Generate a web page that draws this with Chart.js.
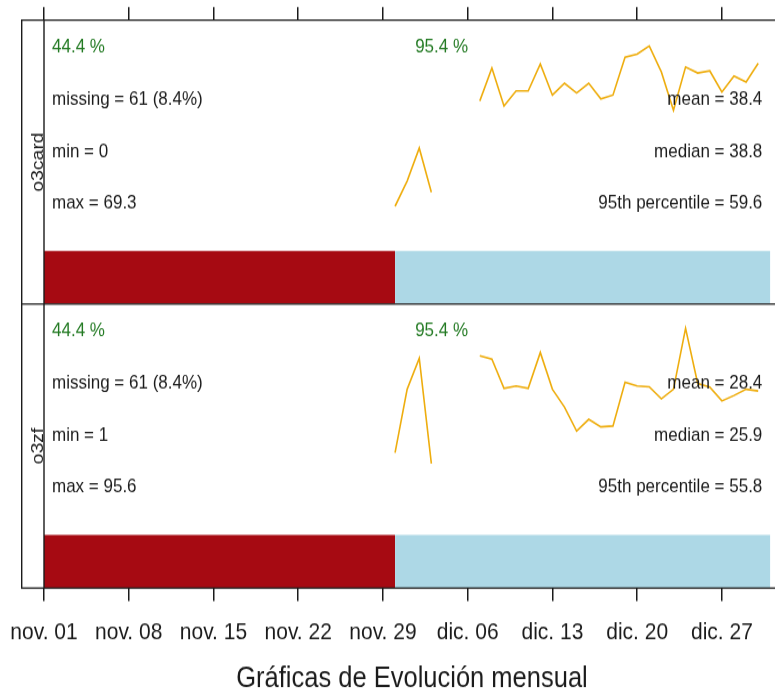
<!DOCTYPE html>
<html>
<head>
<meta charset="utf-8">
<script src="https://cdn.jsdelivr.net/npm/chart.js@4/dist/chart.umd.min.js"></script>
<style>
  html, body { margin: 0; padding: 0; background: #fff; overflow: hidden; }
  #frame { width: 775px; height: 695px; overflow: hidden; position: relative; }
  /* the drawing is made on a 780x610 canvas and stretched to the page height */
  #stretch { width: 780px; height: 610px; transform: scaleY(1.13934); transform-origin: 0 0; }
  canvas { display: block; }
</style>
</head>
<body>
<div id="frame"><div id="stretch">
  <canvas id="c" width="780" height="610" style="width:780px;height:610px"></canvas>
</div></div>
<script>
// ---- data -------------------------------------------------------------
// x values are days counted from 1 November
const panelNames = ['o3card', 'o3zf'];
const tickDays   = [0, 7, 14, 21, 28, 35, 42, 49, 56];
const tickLabels = ['nov. 01', 'nov. 08', 'nov. 15', 'nov. 22', 'nov. 29',
                    'dic. 06', 'dic. 13', 'dic. 20', 'dic. 27'];

// daily means (30 Nov .. 30 Dec), null = no data that day
const days = [29, 30, 31, 32, 33, 34, 35, 36, 37, 38, 39, 40, 41, 42, 43, 44,
              45, 46, 47, 48, 49, 50, 51, 52, 53, 54, 55, 56, 57, 58, 59];
const o3card = [6.9, 14.1, 23.5, 10.9, null, null, null, 36.9, 46.3, 35.5, 39.8,
                39.8, 47.5, 38.6, 42.0, 39.2, 42.0, 37.5, 38.6, 49.4, 50.3, 52.6,
                45.2, 34.3, 46.6, 44.9, 45.5, 39.5, 44.0, 42.3, 47.7];
const o3zf   = [14.4, 29.6, 37.0, 11.8, null, null, null, 37.6, 36.8, 29.8, 30.4,
                29.8, 38.4, 29.6, 25.3, 19.6, 22.4, 20.6, 20.8, 31.3, 30.4, 30.2,
                27.3, 29.6, 44.2, 31.0, 30.1, 26.8, 28.1, 29.6, 29.2];

// data availability bar: [from, to] and whether that stretch is missing
const spanFrom    = [0, 29];
const spanTo      = [29, 60];
const spanMissing = [true, false];

// monthly data capture (%), placed at the start of each month
const monthStart = [0, 30];
const captureO3card = [44.4, 95.4];
const captureO3zf   = [44.4, 95.4];

// summary statistics per panel
const statMissing    = [61, 61];
const statMissingPct = [8.4, 8.4];
const statMin        = [0, 1];
const statMax        = [69.3, 95.6];
const statMean       = [38.4, 28.4];
const statMedian     = [38.8, 25.9];
const statP95        = [59.6, 55.8];

const xTitle = 'Gráficas de Evolución mensual';

// ---- styling ----------------------------------------------------------
const INK = '#1b1b1b';
const GREEN = '#237a23';
const LINE = '#EEAD0E';
const MISSING = '#A60A12';
const PRESENT = '#ADD8E6';
const FONT = '"Liberation Sans", Arial, Helvetica, sans-serif';
const X_MAX = 60.8;
const Y_LIMITS = { yUpper: [-21, 60], yLower: [-18, 50] };
const BAR_FRAC = 0.1865;                 // share of a panel taken by the availability bar
const ROW_FRAC = [0.095, 0.280, 0.463, 0.643];
const STRIP_W = 22.3;

const series = [o3card, o3zf];
const capture = [captureO3card, captureO3zf];
const axisIds = ['yUpper', 'yLower'];

const datasets = [];
series.forEach((vals, p) => {
  const id = axisIds[p];
  const [lo, hi] = Y_LIMITS[id];
  const barTop = lo + BAR_FRAC * (hi - lo);
  spanFrom.forEach((from, k) => {
    datasets.push({
      data: [{ x: from, y: barTop }, { x: spanTo[k], y: barTop }],
      yAxisID: id,
      borderWidth: 0,
      pointRadius: 0,
      fill: 'start',
      backgroundColor: spanMissing[k] ? MISSING : PRESENT,
      order: 2
    });
  });
  datasets.push({
    data: days.map((d, i) => ({ x: d, y: vals[i] })),
    yAxisID: id,
    borderColor: LINE,
    borderWidth: 1.6,
    pointRadius: 0,
    spanGaps: false,
    fill: false,
    tension: 0,
    order: 1
  });
});

// frame, strips and the text annotations of every panel
const panelDecor = {
  id: 'panelDecor',
  afterDatasetsDraw(chart) {
    const { ctx, chartArea: a } = chart;
    const xs = chart.scales.x;
    const stripLeft = a.left - STRIP_W;
    ctx.save();

    axisIds.forEach((id, p) => {
      const s = chart.scales[id];
      const h = s.bottom - s.top;
      const rows = ROW_FRAC.map(f => s.top + f * h);
      ctx.font = '17px ' + FONT;
      ctx.textBaseline = 'middle';

      ctx.fillStyle = GREEN;
      ctx.textAlign = 'left';
      monthStart.forEach((d, k) => {
        ctx.fillText(capture[p][k].toFixed(1) + ' %', xs.getPixelForValue(d) + 8, rows[0]);
      });

      ctx.fillStyle = INK;
      const left = xs.getPixelForValue(spanFrom[0]) + 8;
      ctx.fillText('missing = ' + statMissing[p] + ' (' + statMissingPct[p].toFixed(1) + '%)', left, rows[1]);
      ctx.fillText('min = ' + statMin[p], left, rows[2]);
      ctx.fillText('max = ' + statMax[p], left, rows[3]);

      ctx.textAlign = 'right';
      const right = xs.getPixelForValue(spanTo[spanTo.length - 1]) - 8;
      ctx.fillText('mean = ' + statMean[p].toFixed(1), right, rows[1]);
      ctx.fillText('median = ' + statMedian[p].toFixed(1), right, rows[2]);
      ctx.fillText('95th percentile = ' + statP95[p].toFixed(1), right, rows[3]);

      // strip label, reading upwards
      ctx.save();
      ctx.translate(a.left - 1, (s.top + s.bottom) / 2);
      ctx.rotate(-Math.PI / 2);
      ctx.textAlign = 'center';
      ctx.textBaseline = 'alphabetic';
      ctx.fillText(panelNames[p], 0, 0);
      ctx.restore();
    });

    // outlines
    ctx.strokeStyle = INK;
    ctx.lineWidth = 1.4;
    ctx.beginPath();
    ctx.rect(stripLeft, a.top, a.right - stripLeft, a.bottom - a.top);
    const sep = chart.scales.yUpper.bottom;
    ctx.moveTo(stripLeft, sep); ctx.lineTo(a.right, sep);
    ctx.moveTo(a.left, a.top); ctx.lineTo(a.left, a.bottom);
    ctx.stroke();
    ctx.restore();
  }
};

const setTicks = scale => { scale.ticks = tickDays.map(v => ({ value: v })); };

new Chart(document.getElementById('c'), {
  type: 'line',
  data: { datasets },
  plugins: [panelDecor],
  options: {
    responsive: false,
    animation: false,
    devicePixelRatio: 1,
    layout: { padding: 0 },
    plugins: { legend: { display: false }, tooltip: { enabled: false } },
    scales: {
      x: {
        type: 'linear', position: 'bottom', min: 0, max: X_MAX,
        afterBuildTicks: setTicks,
        afterFit: s => { s.height = 93.9; s.paddingLeft = 0; s.paddingRight = 0; },
        grid: { drawOnChartArea: false, drawTicks: true, tickLength: 11.4, color: INK, lineWidth: 1.5 },
        border: { display: false },
        ticks: {
          autoSkip: false, maxRotation: 0, padding: 15, color: INK,
          font: { family: FONT, size: 21, lineHeight: 1.2 },
          callback: v => tickLabels[tickDays.indexOf(v)]
        },
        title: {
          display: true, text: xTitle, color: INK,
          font: { family: FONT, size: 25.5, lineHeight: 1 },
          padding: { top: 0, bottom: 1.5 }
        }
      },
      x2: {
        type: 'linear', position: 'top', min: 0, max: X_MAX,
        afterBuildTicks: setTicks,
        afterFit: s => { s.height = 17.6; s.paddingLeft = 0; s.paddingRight = 0; },
        grid: { drawOnChartArea: false, drawTicks: true, tickLength: 11.4, color: INK, lineWidth: 1.5 },
        border: { display: false },
        ticks: { display: false }
      },
      yLower: {
        type: 'linear', position: 'left', stack: 'panels', stackWeight: 1, weight: 0,
        min: Y_LIMITS.yLower[0], max: Y_LIMITS.yLower[1],
        afterFit: s => { s.width = 44; },
        grid: { display: false }, border: { display: false }, ticks: { display: false }
      },
      yUpper: {
        type: 'linear', position: 'left', stack: 'panels', stackWeight: 1, weight: 1,
        min: Y_LIMITS.yUpper[0], max: Y_LIMITS.yUpper[1],
        afterFit: s => { s.width = 44; },
        grid: { display: false }, border: { display: false }, ticks: { display: false }
      }
    }
  }
});
</script>
</body>
</html>
